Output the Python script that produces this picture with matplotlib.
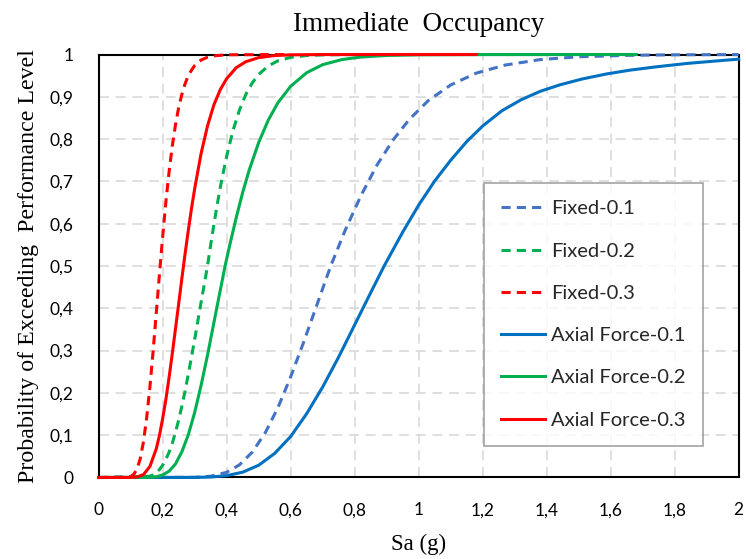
import matplotlib.pyplot as plt
from matplotlib.ticker import FuncFormatter, MultipleLocator

# Fragility curves, Immediate Occupancy level (Sa in g, probability of exceedance)
fixed_01_x = [0.0, 0.30, 0.35, 0.40, 0.44, 0.48, 0.52, 0.56, 0.60, 0.64, 0.68, 0.725,
              0.77, 0.82, 0.87, 0.92, 0.97, 1.03, 1.10, 1.18, 1.27, 1.38, 1.50, 1.65,
              1.80, 2.0]
fixed_01_y = [0.0, 0.0004, 0.003, 0.0123, 0.030, 0.060, 0.105, 0.165, 0.238, 0.319, 0.404, 0.50,
              0.584, 0.667, 0.739, 0.798, 0.846, 0.891, 0.928, 0.956, 0.975, 0.988, 0.9946, 0.998,
              0.9993, 0.9998]

fixed_02_x = [0.0, 0.16, 0.17, 0.18, 0.19, 0.20, 0.21, 0.22, 0.23, 0.24, 0.25, 0.26, 0.27,
              0.28, 0.29, 0.30, 0.31, 0.32, 0.33, 0.34, 0.35, 0.36, 0.37, 0.38, 0.39, 0.40,
              0.42, 0.44, 0.46, 0.48, 0.50, 0.53, 0.56, 0.60, 0.65, 0.70, 0.80, 1.0]
fixed_02_y = [0.0, 0.003, 0.0066, 0.0116, 0.019, 0.029, 0.043, 0.060, 0.081, 0.107, 0.136, 0.169, 0.205,
              0.244, 0.285, 0.327, 0.371, 0.414, 0.457, 0.50, 0.550, 0.598, 0.644, 0.686, 0.724, 0.760,
              0.821, 0.869, 0.906, 0.933, 0.953, 0.973, 0.985, 0.9932, 0.9976, 0.9992, 0.9999, 1.0]

fixed_03_x = [0.0, 0.09, 0.10, 0.11, 0.12, 0.13, 0.14, 0.15, 0.16, 0.17, 0.18, 0.19, 0.20,
              0.21, 0.22, 0.23, 0.24, 0.25, 0.26, 0.27, 0.28, 0.29, 0.30, 0.32, 0.34, 0.36,
              0.40, 0.60]
fixed_03_y = [0.0, 0.0005, 0.0023, 0.0078, 0.0206, 0.045, 0.085, 0.142, 0.214, 0.298, 0.390, 0.482, 0.570,
              0.652, 0.723, 0.784, 0.834, 0.875, 0.906, 0.931, 0.950, 0.963, 0.974, 0.987, 0.9935, 0.9968,
              0.9993, 1.0]

axial_01_x = [0.0, 0.30, 0.35, 0.40, 0.45, 0.50, 0.55, 0.60, 0.65, 0.70, 0.75, 0.80, 0.85,
              0.892, 0.95, 1.00, 1.05, 1.10, 1.15, 1.20, 1.26, 1.32, 1.38, 1.44, 1.51, 1.587,
              1.66, 1.744, 1.84, 1.95, 2.0]
axial_01_y = [0.0, 0.0002, 0.0011, 0.0044, 0.0126, 0.029, 0.057, 0.097, 0.151, 0.214, 0.285, 0.361, 0.437,
              0.50, 0.580, 0.644, 0.701, 0.750, 0.794, 0.831, 0.867, 0.893, 0.913, 0.928, 0.942, 0.954,
              0.963, 0.971, 0.979, 0.986, 0.989]

axial_02_x = [0.0, 0.16, 0.18, 0.20, 0.22, 0.24, 0.26, 0.28, 0.30, 0.32, 0.34, 0.36, 0.38,
              0.395, 0.41, 0.43, 0.45, 0.47, 0.50, 0.53, 0.56, 0.60, 0.65, 0.70, 0.76, 0.82,
              0.90, 1.0, 1.2, 1.68]
axial_02_y = [0.0, 0.0004, 0.0018, 0.0059, 0.015, 0.032, 0.061, 0.101, 0.154, 0.218, 0.289, 0.366, 0.443,
              0.50, 0.551, 0.615, 0.674, 0.726, 0.792, 0.845, 0.886, 0.925, 0.957, 0.976, 0.988, 0.9941,
              0.9977, 0.9993, 0.9999, 1.0]

axial_03_x = [0.0, 0.10, 0.12, 0.14, 0.16, 0.18, 0.19, 0.20, 0.21, 0.22, 0.23, 0.24, 0.25,
              0.26, 0.27, 0.28, 0.29, 0.30, 0.32, 0.34, 0.36, 0.38, 0.40, 0.43, 0.46, 0.50,
              0.55, 0.60, 0.70, 1.18]
axial_03_y = [0.0, 0.0002, 0.0012, 0.007, 0.026, 0.068, 0.100, 0.140, 0.185, 0.237, 0.293, 0.352, 0.411,
              0.471, 0.529, 0.584, 0.636, 0.683, 0.766, 0.831, 0.881, 0.917, 0.943, 0.969, 0.983, 0.9927,
              0.9975, 0.9992, 0.9999, 1.0]

series = [
    ("Fixed-0.1", fixed_01_x, fixed_01_y, "#4472C4", True),
    ("Fixed-0.2", fixed_02_x, fixed_02_y, "#00B050", True),
    ("Fixed-0.3", fixed_03_x, fixed_03_y, "#FF0000", True),
    ("Axial Force-0.1", axial_01_x, axial_01_y, "#0070C0", False),
    ("Axial Force-0.2", axial_02_x, axial_02_y, "#00B050", False),
    ("Axial Force-0.3", axial_03_x, axial_03_y, "#FF0000", False),
]

fig = plt.figure(figsize=(7.46, 5.59), dpi=100)
ax = fig.add_axes([0.1323, 0.1458, 0.8579, 0.7567])

for label, xs, ys, color, dashed in series:
    line, = ax.plot(xs, ys, color=color, lw=2.2, label=label, zorder=3,
                    clip_on=False, solid_joinstyle="round")
    if dashed:
        line.set_dashes([3.0, 2.0])
        line.set_dash_capstyle("butt")

ax.set_xlim(0, 2)
ax.set_ylim(0, 1)
ax.xaxis.set_major_locator(MultipleLocator(0.2))
ax.yaxis.set_major_locator(MultipleLocator(0.1))

comma = FuncFormatter(lambda v, pos: ("%g" % round(v, 2)).replace(".", ","))
ax.xaxis.set_major_formatter(comma)
ax.yaxis.set_major_formatter(comma)

ax.grid(True, color="#d9d9d9", lw=1.2, dashes=(6, 4))
ax.set_axisbelow(True)
for s in ax.spines.values():
    s.set_color("black")
    s.set_linewidth(1.5)

ax.tick_params(length=0, labelsize=12.5)
ax.tick_params(axis="y", pad=18)
ax.tick_params(axis="x", pad=18)
for t in ax.get_xticklabels() + ax.get_yticklabels():
    t.set_fontfamily("Lato")

serif = "Liberation Serif"
ax.set_title("Immediate  Occupancy", fontfamily=serif, fontsize=19.5, pad=17)
ax.set_xlabel("Sa (g)", fontfamily=serif, fontsize=16.5, labelpad=11)
ax.set_ylabel("Probability of Exceeding  Performance Level", fontfamily=serif,
              fontsize=17.2, labelpad=8)

leg = ax.legend(loc="upper left", bbox_to_anchor=(0.602, 0.696), prop={"family": "Lato", "size": 14.5},
                frameon=True, fancybox=False, edgecolor="#8c8c8c", handlelength=2.2,
                handletextpad=0.3, labelspacing=1.25, borderpad=0.85, borderaxespad=0)
leg.get_frame().set_linewidth(1.2)
for t in leg.get_texts():
    t.set_color("#262626")

plt.savefig("out.png", dpi=100)
plt.close()
